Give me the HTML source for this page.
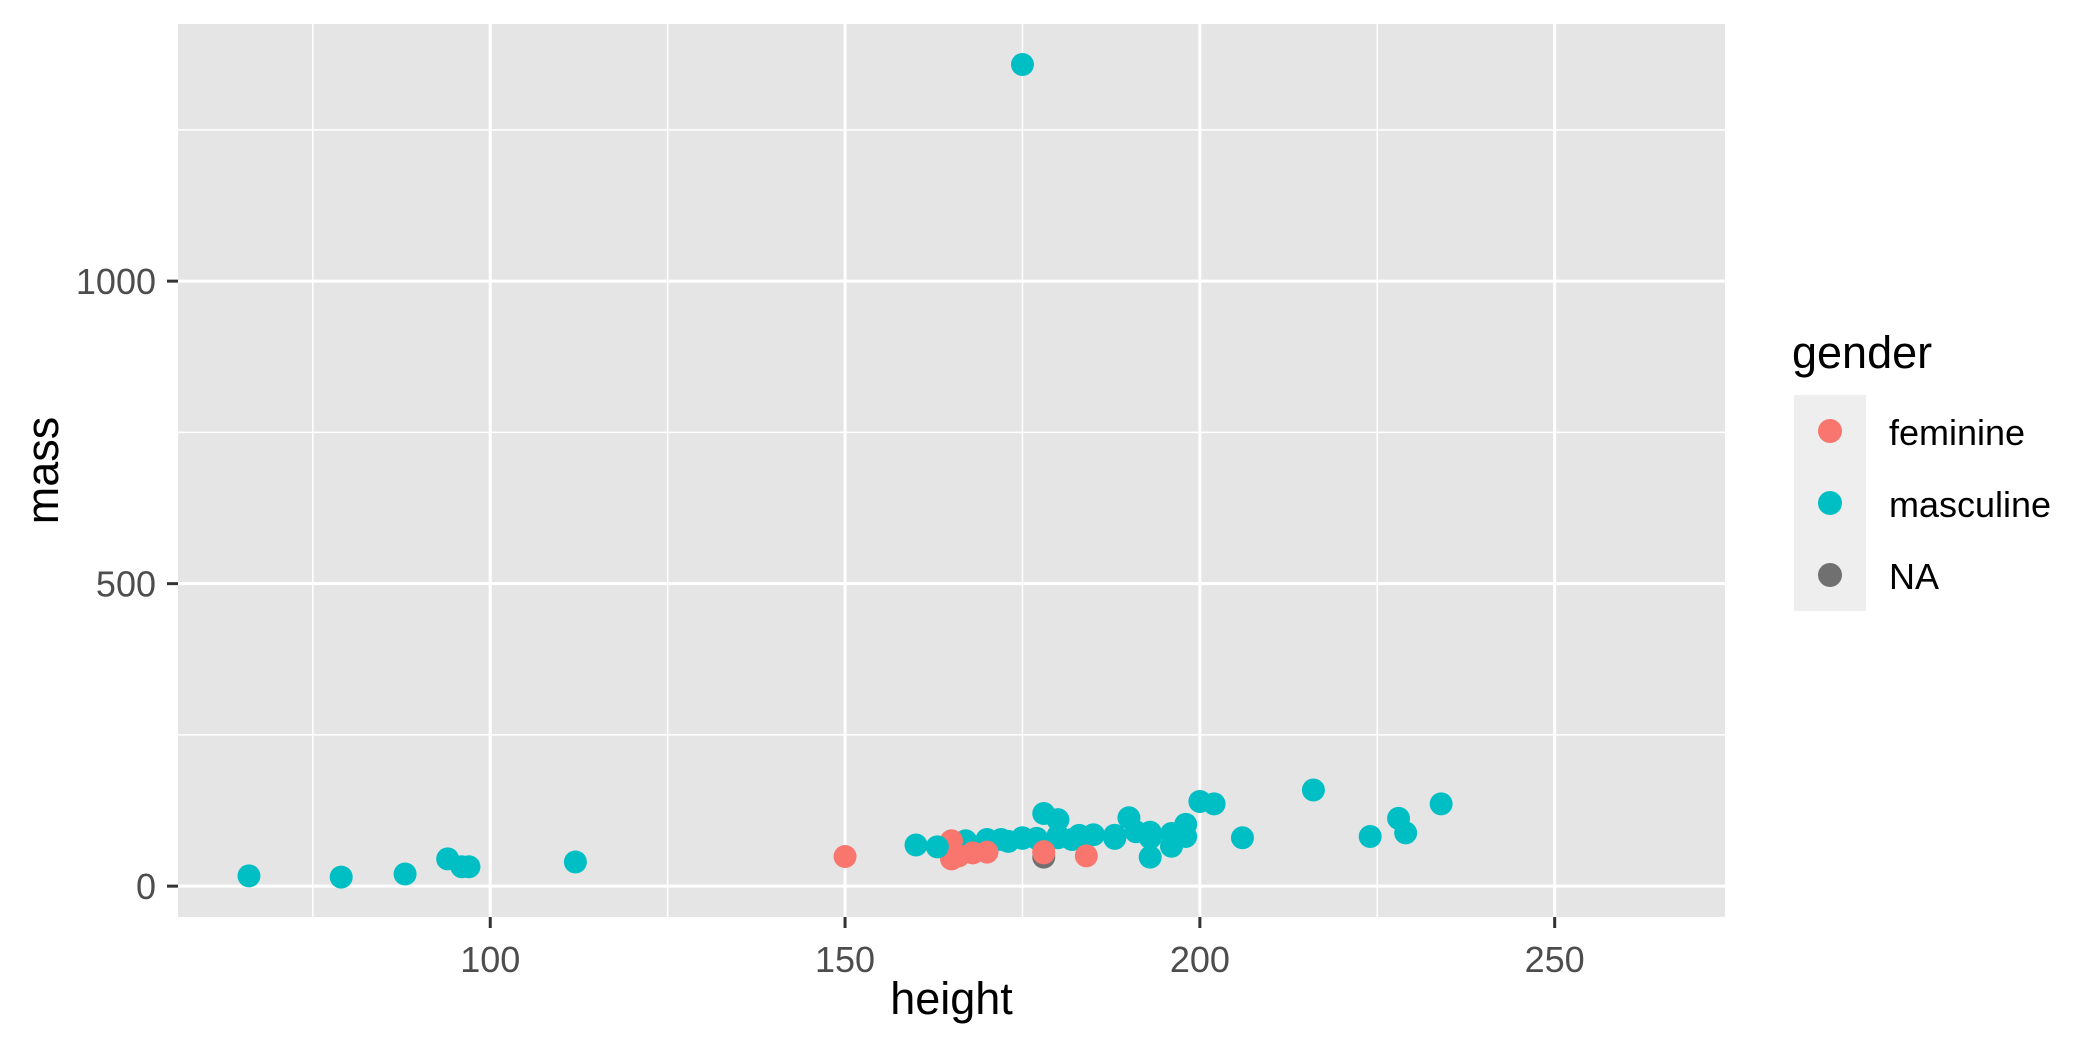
<!DOCTYPE html>
<html><head><meta charset="utf-8"><style>
body{margin:0;background:#fff}
svg{display:block;font-family:"Liberation Sans",Arial,sans-serif}
</style></head><body>
<svg id="chart" width="2100" height="1050" viewBox="0 0 2100 1050"></svg>
<script>
const heights=[172,167,96,202,150,178,165,97,183,182,188,228,180,173,175,170,180,66,170,183,200,190,177,175,180,88,160,165,196,224,94,112,198,196,188,185,183,170,166,193,183,168,198,229,193,178,216,234,188,178,206,79,188,193,191,178,184,175,163];
const masses=[77,75,32,136,49,120,75,32,84,77,84,112,80,74,1358,77,110,17,75,78.2,140,113,79,79,83,20,68,45,66,82,45,40,82,87,80,85,80,56.2,50,80,79,55,102,88,48,57,159,136,79,48,80,15,84,89,90,55,50,80,65];
const genders=["m","m","m","m","f","m","f","m","m","m","m","m","m","m","m","m","m","m","m","m","m","m","m","m","m","m","m","f","m","m","m","m","m","m","m","m","m","f","f","m","m","f","m","m","m","f","m","m","m","NA","m","m","m","m","m","f","f","m","m"];
const xTicks=[100,150,200,250], xMinor=[75,125,175,225];
const yTicks=[0,500,1000], yMinor=[250,750,1250];
const colors={f:"#F8766D",m:"#00BFC4",NA:"#707070"};
const legendKeys=["f","m","NA"], legendLabels=["feminine","masculine","NA"];
const P={l:178,r:1725,t:24,b:917}, XD=[56,274], YD=[-51,1425];
const X=v=>P.l+(v-XD[0])/(XD[1]-XD[0])*(P.r-P.l);
const Y=v=>P.b-(v-YD[0])/(YD[1]-YD[0])*(P.b-P.t);
const svg=document.getElementById('chart'), NS="http://www.w3.org/2000/svg";
function mk(t,a,p){const e=document.createElementNS(NS,t);for(const k in a)e.setAttribute(k,a[k]);(p||svg).appendChild(e);return e;}
const bg=mk('rect',{x:P.l,y:P.t,width:P.r-P.l,height:P.b-P.t,fill:"#E5E5E5"});


xMinor.forEach(v=>{const l=mk('line',{x1:X(v),x2:X(v),y1:P.t,y2:P.b,stroke:"#fff","stroke-width":1.5});

});
yMinor.forEach(v=>{const l=mk('line',{x1:P.l,x2:P.r,y1:Y(v),y2:Y(v),stroke:"#fff","stroke-width":1.5});

});
xTicks.forEach(v=>{const l=mk('line',{x1:X(v),x2:X(v),y1:P.t,y2:P.b,stroke:"#fff","stroke-width":3});


const t=mk('line',{x1:X(v),x2:X(v),y1:P.b,y2:P.b+11,stroke:"#333","stroke-width":3});


const tx=mk('text',{x:X(v),y:972,"text-anchor":"middle","font-size":36,fill:"#4D4D4D"});tx.textContent=v;

});
yTicks.forEach(v=>{const l=mk('line',{x1:P.l,x2:P.r,y1:Y(v),y2:Y(v),stroke:"#fff","stroke-width":3});


const t=mk('line',{x1:P.l-11,x2:P.l,y1:Y(v),y2:Y(v),stroke:"#333","stroke-width":3});


const tx=mk('text',{x:156,y:Y(v)+13,"text-anchor":"end","font-size":36,fill:"#4D4D4D"});tx.textContent=v;

});
heights.forEach((h,i)=>{const c=mk('circle',{cx:X(h),cy:Y(masses[i]),r:11.5,fill:colors[genders[i]]});

});
const xt=mk('text',{x:(P.l+P.r)/2,y:1014,"text-anchor":"middle","font-size":45,fill:"#000"});xt.textContent="height";


const yt=mk('text',{x:0,y:0,"text-anchor":"middle","font-size":45,fill:"#000",transform:`translate(58,${(P.t+P.b)/2}) rotate(-90)`});yt.textContent="mass";


const lt=mk('text',{x:1792,y:368,"font-size":45,fill:"#000"});lt.textContent="gender";


const lb=mk('rect',{x:1794,y:395,width:72,height:216,fill:"#EEEEEE"});


legendKeys.forEach((k,i)=>{const cy=431+i*72;
const c=mk('circle',{cx:1830,cy:cy,r:12,fill:colors[k]});


const t=mk('text',{x:1889,y:cy+14,"font-size":36,fill:"#000"});t.textContent=legendLabels[i];

});
</script>
</body></html>
